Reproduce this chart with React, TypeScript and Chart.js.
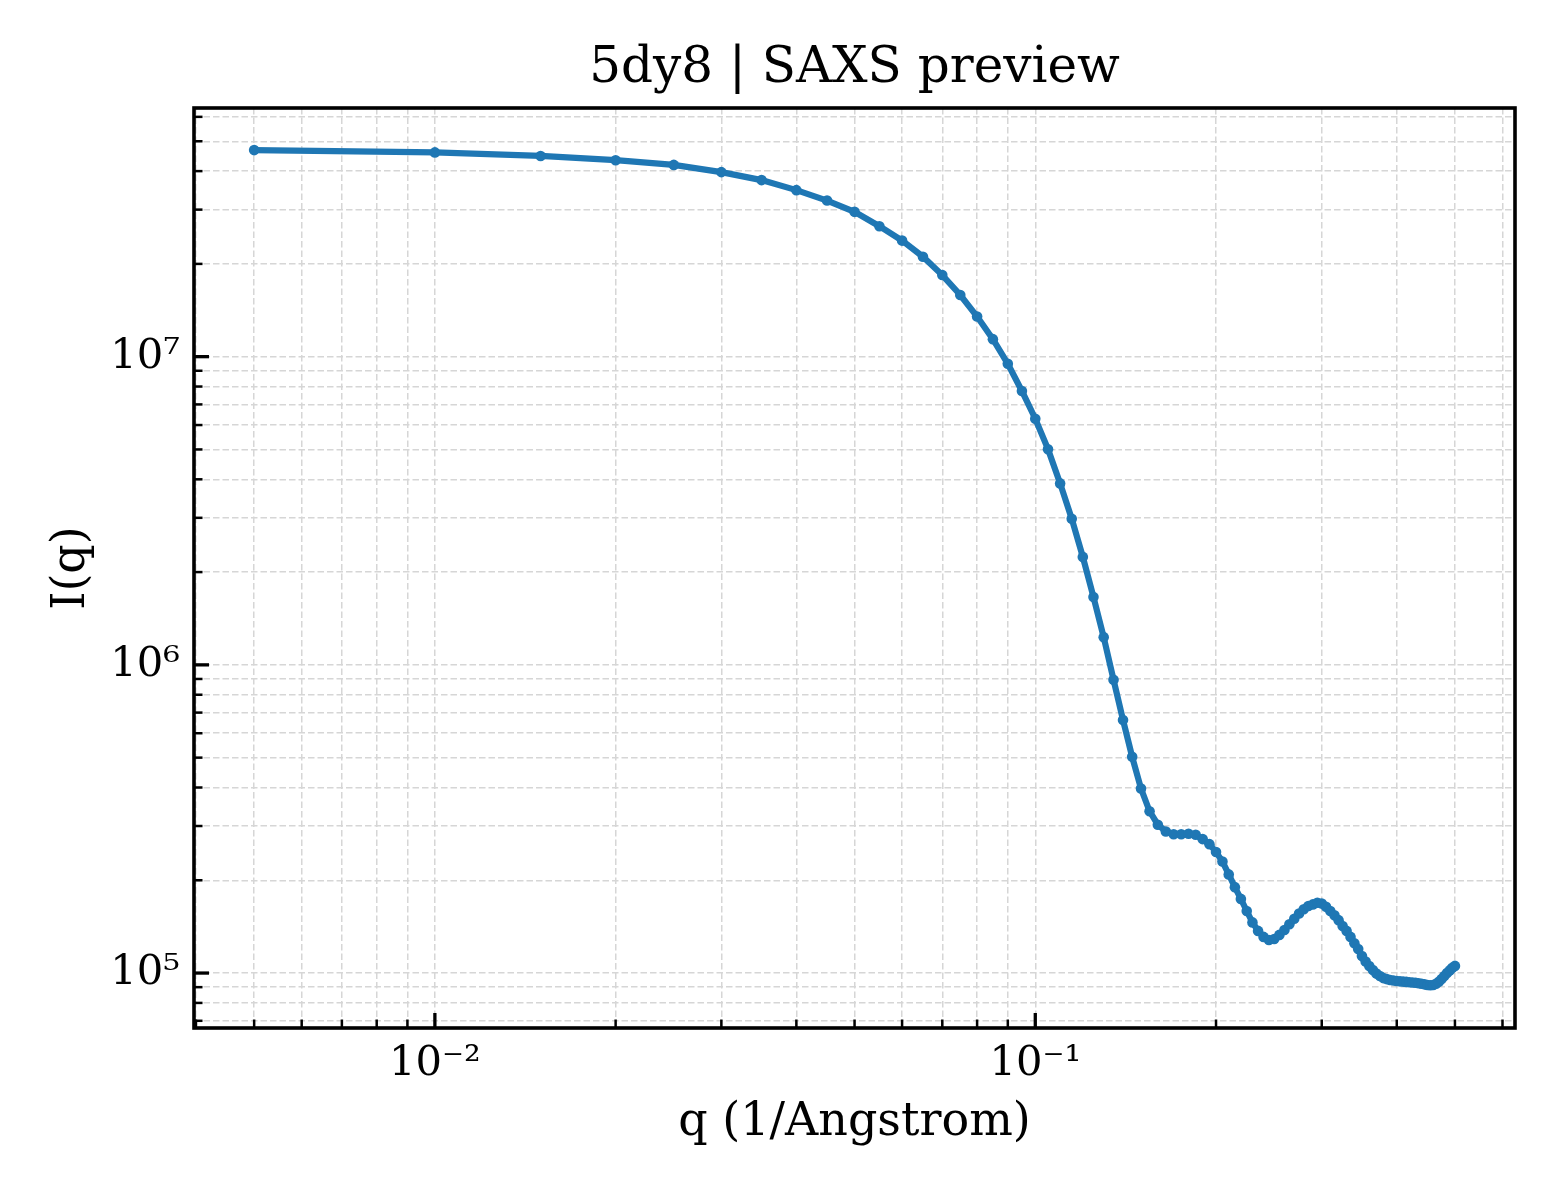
import React, { useEffect, useRef } from "react";
import { Chart, registerables } from "chart.js";

Chart.register(...registerables);

const chartTitle = "5dy8 | SAXS preview";
const xAxisLabel = "q (1/Angstrom)";
const yAxisLabel = "I(q)";

const qValues: number[] = [
  0.005, 0.01, 0.015, 0.02, 0.025, 0.03, 0.035, 0.04, 0.045, 0.05,
  0.055, 0.06, 0.065, 0.07, 0.075, 0.08, 0.085, 0.09, 0.095, 0.1,
  0.105, 0.11, 0.115, 0.12, 0.125, 0.13, 0.135, 0.14, 0.145, 0.15,
  0.155, 0.16, 0.165, 0.17, 0.175, 0.18, 0.185, 0.19, 0.195, 0.2,
  0.205, 0.21, 0.215, 0.22, 0.225, 0.23, 0.235, 0.24, 0.245, 0.25,
  0.255, 0.26, 0.265, 0.27, 0.275, 0.28, 0.285, 0.29, 0.295, 0.3,
  0.305, 0.31, 0.315, 0.32, 0.325, 0.33, 0.335, 0.34, 0.345, 0.35,
  0.355, 0.36, 0.365, 0.37, 0.375, 0.38, 0.385, 0.39, 0.395, 0.4,
  0.405, 0.41, 0.415, 0.42, 0.425, 0.43, 0.435, 0.44, 0.445, 0.45,
  0.455, 0.46, 0.465, 0.47, 0.475, 0.48, 0.485, 0.49, 0.495, 0.5,
];

const intensity: number[] = [
  4.68e7, 4.6e7, 4.48e7, 4.34e7, 4.19e7, 3.97e7, 3.74e7, 3.47e7, 3.21e7, 2.95e7,
  2.65e7, 2.38e7, 2.11e7, 1.84e7, 1.585e7, 1.35e7, 1.14e7, 9.48e6, 7.74e6, 6.29e6,
  5.01e6, 3.88e6, 2.98e6, 2.24e6, 1.66e6, 1.23e6, 8.95e5, 6.62e5, 5.03e5, 3.97e5,
  3.35e5, 3.03e5, 2.88e5, 2.82e5, 2.82e5, 2.83e5, 2.81e5, 2.72e5, 2.62e5, 2.47e5,
  2.3e5, 2.09e5, 1.9e5, 1.74e5, 1.59e5, 1.46e5, 1.37e5, 1.31e5, 1.28e5, 1.29e5,
  1.33e5, 1.38e5, 1.44e5, 1.5e5, 1.56e5, 1.61e5, 1.65e5, 1.67e5, 1.69e5, 1.68e5,
  1.64e5, 1.59e5, 1.54e5, 1.485e5, 1.42e5, 1.37e5, 1.31e5, 1.25e5, 1.196e5, 1.135e5,
  1.09e5, 1.054e5, 1.023e5, 9.96e4, 9.78e4, 9.63e4, 9.56e4, 9.49e4, 9.46e4, 9.42e4,
  9.4e4, 9.38e4, 9.36e4, 9.34e4, 9.32e4, 9.3e4, 9.27e4, 9.23e4, 9.19e4, 9.15e4,
  9.13e4, 9.15e4, 9.23e4, 9.37e4, 9.56e4, 9.78e4, 1.0e5, 1.02e5, 1.04e5, 1.055e5,
];

const xLimits: number[] = [0.00397, 0.6295];
const yLimits: number[] = [6.633e4, 6.41e7];

const FONT = "'DejaVu Serif', 'Liberation Serif', serif";
const LINE_COLOR = "#1f77b4";
const GRID_COLOR = "#d6d6d6";

const SUP: Record<string, string> = {
  "0": "\u2070", "1": "\u00b9", "2": "\u00b2", "3": "\u00b3", "4": "\u2074",
  "5": "\u2075", "6": "\u2076", "7": "\u2077", "8": "\u2078", "9": "\u2079", "-": "\u207b",
};

function powLabel(value: number): string {
  const lg = Math.log10(value);
  const r = Math.round(lg);
  if (Math.abs(lg - r) > 1e-6) return "";
  return "10" + String(r).split("").map((c) => SUP[c] || c).join("");
}

function logTicks(min: number, max: number) {
  const out: { value: number; major: boolean }[] = [];
  const e0 = Math.floor(Math.log10(min));
  const e1 = Math.ceil(Math.log10(max));
  for (let e = e0; e <= e1; e++) {
    for (let k = 1; k <= 9; k++) {
      const v = Number((k * Math.pow(10, e)).toPrecision(12));
      if (v > min && v < max) out.push({ value: v, major: k === 1 });
    }
  }
  return out;
}

const framePlugin = {
  id: "mplFrame",
  afterDraw(chart: any) {
    const { ctx, chartArea: a } = chart;
    const xs = chart.scales.x;
    const ys = chart.scales.y;
    ctx.save();
    ctx.strokeStyle = "#000";
    ctx.lineCap = "butt";
    for (const t of xs.ticks) {
      const px = xs.getPixelForValue(t.value);
      const len = t.major ? 15 : 8.5;
      ctx.lineWidth = t.major ? 3.3 : 2.5;
      ctx.beginPath();
      ctx.moveTo(px, a.bottom);
      ctx.lineTo(px, a.bottom - len);
      ctx.stroke();
    }
    for (const t of ys.ticks) {
      const py = ys.getPixelForValue(t.value);
      const len = t.major ? 15 : 8.5;
      ctx.lineWidth = t.major ? 3.3 : 2.5;
      ctx.beginPath();
      ctx.moveTo(a.left, py);
      ctx.lineTo(a.left + len, py);
      ctx.stroke();
    }
    ctx.lineWidth = 3.6;
    ctx.lineJoin = "miter";
    ctx.strokeRect(a.left, a.top, a.right - a.left, a.bottom - a.top);
    ctx.restore();
  },
};

export default function App() {
  const canvasRef = useRef<HTMLCanvasElement | null>(null);

  useEffect(() => {
    const canvas = canvasRef.current;
    if (!canvas) return;
    const points = qValues.map((q, i) => ({ x: q, y: intensity[i] }));
    const chart = new Chart(canvas, {
      type: "line",
      data: {
        datasets: [
          {
            data: points,
            borderColor: LINE_COLOR,
            backgroundColor: LINE_COLOR,
            borderWidth: 6.2,
            pointRadius: 5.3,
            pointBorderWidth: 0,
            pointBackgroundColor: LINE_COLOR,
            tension: 0,
            fill: false,
          },
        ],
      },
      options: {
        animation: false,
        responsive: false,
        devicePixelRatio: 1,
        layout: { padding: { left: 0, right: 45, top: 0, bottom: 0 } },
        plugins: {
          legend: { display: false },
          tooltip: { enabled: false },
          title: {
            display: true,
            text: chartTitle,
            color: "#000",
            fullSize: false,
            font: { family: FONT, size: 50, weight: "normal", lineHeight: 1.2 },
            padding: { top: 39, bottom: 9 },
          },
        },
        scales: {
          x: {
            type: "logarithmic",
            min: xLimits[0],
            max: xLimits[1],
            bounds: "data",
            afterBuildTicks: (scale: any) => {
              scale.ticks = logTicks(xLimits[0], xLimits[1]);
            },
            afterFit: (scale: any) => {
              scale.height = 172;
            },
            grid: {
              color: GRID_COLOR,
              lineWidth: 1.5,
              drawTicks: false,
            },
            border: { display: false, dash: [6.5, 3] },
            ticks: {
              autoSkip: false,
              maxRotation: 0,
              minRotation: 0,
              padding: 11,
              color: "#000",
              font: { family: FONT, size: 41.7, lineHeight: 1.2 },
              callback: (value: any) => powLabel(Number(value)),
            },
            title: {
              display: true,
              text: xAxisLabel,
              color: "#000",
              font: { family: FONT, size: 46, lineHeight: 1.2 },
              padding: { top: 0, bottom: 49 },
            },
          },
          y: {
            type: "logarithmic",
            min: yLimits[0],
            max: yLimits[1],
            bounds: "data",
            afterBuildTicks: (scale: any) => {
              scale.ticks = logTicks(yLimits[0], yLimits[1]);
            },
            afterFit: (scale: any) => {
              scale.width = 194;
            },
            grid: {
              color: GRID_COLOR,
              lineWidth: 1.5,
              drawTicks: false,
            },
            border: { display: false, dash: [6.5, 3] },
            ticks: {
              autoSkip: false,
              padding: 14,
              color: "#000",
              font: { family: FONT, size: 41.7, lineHeight: 1.2 },
              callback: (value: any) => powLabel(Number(value)),
            },
            title: {
              display: true,
              text: yAxisLabel,
              color: "#000",
              font: { family: FONT, size: 46, lineHeight: 1.2 },
              padding: { top: 44, bottom: 0 },
            },
          },
        },
      },
      plugins: [framePlugin],
    } as any);
    return () => chart.destroy();
  }, []);

  return (
    <div style={{ position: "absolute", left: 0, top: 0, width: 1560, height: 1200, background: "#fff" }}>
      <canvas ref={canvasRef} width={1560} height={1200} style={{ width: 1560, height: 1200, display: "block" }} />
    </div>
  );
}
